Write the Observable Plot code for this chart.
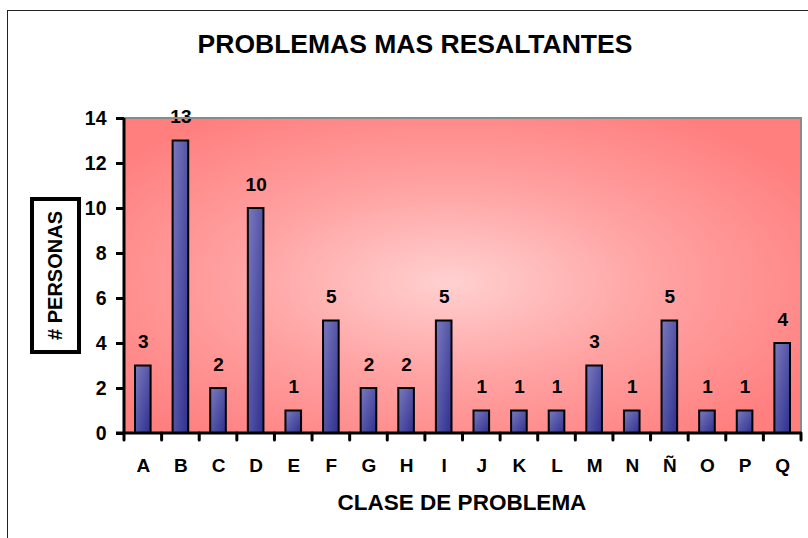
<!DOCTYPE html>
<html><head><meta charset="utf-8">
<script src="https://cdn.jsdelivr.net/npm/d3@7"></script>
<script src="https://cdn.jsdelivr.net/npm/@observablehq/plot@0.6"></script>
<style>
body{margin:0;background:#fff;font-family:"Liberation Sans",Arial,sans-serif}
#wrap{position:relative;width:808px;height:538px;overflow:hidden;background:#fff}
#frame{position:absolute;left:7px;top:10px;width:830px;height:600px;border:1px solid #222;box-sizing:border-box}
#title{position:absolute;left:0;width:830px;top:28px;text-align:center;font-weight:bold;font-size:26.5px;line-height:32px;color:#000}
#xlab{position:absolute;left:0;width:924px;top:489px;text-align:center;font-weight:bold;font-size:22.5px;line-height:28px;color:#000}
#ylab{position:absolute;left:30px;top:197px;width:51px;height:157px;border:4px solid #000;box-sizing:border-box;display:flex;align-items:center;justify-content:center;background:#fff}
#ylab span{writing-mode:vertical-rl;transform:rotate(180deg);font-weight:bold;font-size:20px;color:#000;white-space:nowrap}
#chart{position:absolute;left:0;top:0}
</style>
</head><body>
<div id="wrap">
  <div id="frame"></div>
  <div id="chart"></div>
  <div id="title">PROBLEMAS MAS RESALTANTES</div>
  <div id="xlab">CLASE DE PROBLEMA</div>
  <div id="ylab"><span># PERSONAS</span></div>
</div>
<script>
const categories = ["A","B","C","D","E","F","G","H","I","J","K","L","M","N","Ñ","O","P","Q"];
const values = [3,13,2,10,1,5,2,2,5,1,1,1,3,1,5,1,1,4];
const yTicks = [0,2,4,6,8,10,12,14];
const data = categories.map((c, i) => ({c, v: values[i]}));

const plot = Plot.plot({
  width: 808, height: 538,
  marginLeft: 124, marginRight: 7, marginTop: 118, marginBottom: 105,
  style: {fontFamily: '"Liberation Sans", Arial, sans-serif', fontSize: "19px", fontWeight: "bold", color: "#000", background: "transparent", overflow: "visible"},
  x: {domain: categories, padding: 0, round: false, label: null},
  y: {domain: [0, 14], label: null},
  marks: [
    Plot.frame({fill: "url(#bgGrad)", stroke: null}),
    Plot.barY(data, {x: "c", y: "v", fill: "url(#barGrad)", stroke: "#000", strokeWidth: 2, insetLeft: 11, insetRight: 11}),
    Plot.text(data, {x: "c", y: "v", text: d => String(d.v), lineAnchor: "bottom", dy: -18, fontSize: 19, fontWeight: "bold", fill: "#000"}),
    Plot.axisY({ticks: yTicks, tickSize: 8, tickPadding: 10, strokeWidth: 3, label: null, fontSize: 19.5, fontWeight: "bold"}),
    Plot.axisX({tickSize: 0, tickPadding: 25, label: null, fontSize: 19, fontWeight: "bold"}),
    (index, scales, values_, dims) => {
      const g = d3.create("svg:g");
      const L = dims.marginLeft, R = dims.width - dims.marginRight;
      const T = dims.marginTop, B = dims.height - dims.marginBottom;
      g.append("path").attr("d", `M${L},${T}H${R}V${B}`).attr("fill", "none").attr("stroke", "#8a8a8a").attr("stroke-width", 2);
      const bounds = categories.map(c => scales.x(c)).concat([scales.x(categories[categories.length - 1]) + scales.x.bandwidth()]);
      for (const bx of bounds) {
        g.append("line").attr("x1", bx).attr("x2", bx).attr("y1", B).attr("y2", B + 7).attr("stroke", "#000").attr("stroke-width", 3).attr("stroke-linecap", "round");
      }
      g.append("line").attr("x1", L).attr("x2", L).attr("y1", T).attr("y2", B).attr("stroke", "#000").attr("stroke-width", 3);
      g.append("line").attr("x1", L - 8).attr("x2", R).attr("y1", B).attr("y2", B).attr("stroke", "#000").attr("stroke-width", 3);
      return g.node();
    }
  ]
});

d3.select(plot).insert("defs", ":first-child").html(`
  <radialGradient id="bgGrad" cx="0.48" cy="0.52" r="0.62">
    <stop offset="0" stop-color="#ffd0d0"/>
    <stop offset="0.5" stop-color="#ffa2a2"/>
    <stop offset="1" stop-color="#ff7f7f"/>
  </radialGradient>
  <linearGradient id="barGrad" x1="0" y1="0" x2="1" y2="1">
    <stop offset="0" stop-color="#7a7abf"/>
    <stop offset="1" stop-color="#2f2f8f"/>
  </linearGradient>
`);
document.getElementById("chart").appendChild(plot);
</script>
</body></html>
